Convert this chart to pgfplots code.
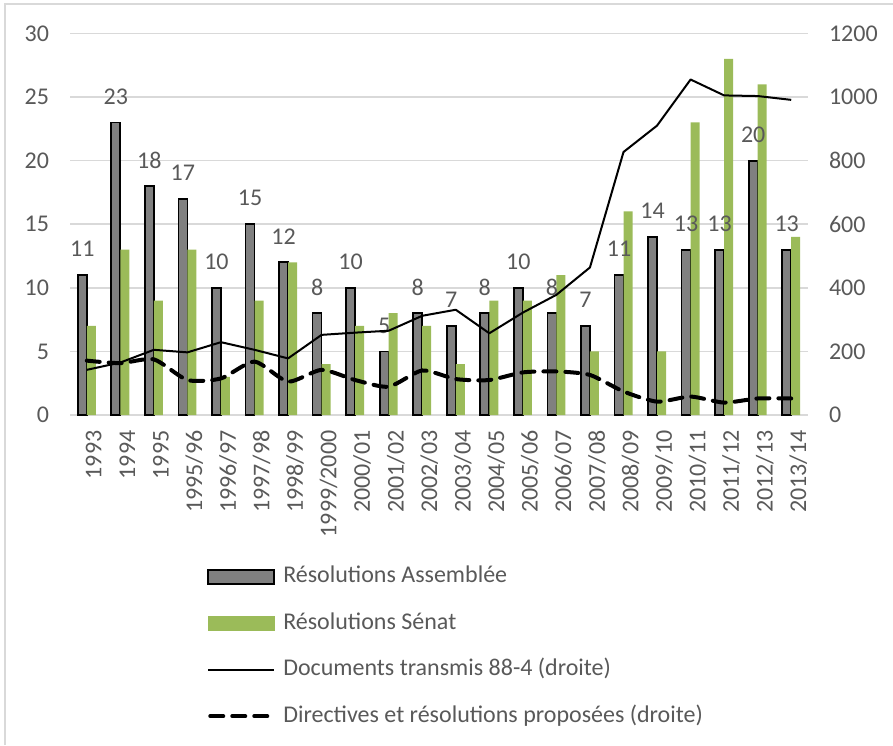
\documentclass[border=0pt]{standalone}
\usepackage{fontspec}
\setmainfont{Carlito}
\usepackage{pgfplots}
\pgfplotsset{compat=1.18}
\definecolor{txt}{HTML}{595959}
\definecolor{gridc}{HTML}{D9D9D9}
\definecolor{barg}{HTML}{808080}
\definecolor{barn}{HTML}{9BBB59}
\pgfkeys{/pgf/number format/assume math mode=true}
\newcommand{\lf}{\fontsize{12}{14}\selectfont}
\begin{document}
\begin{tikzpicture}
\path[use as bounding box] (0pt,0pt) rectangle (446.5pt,372.5pt);
\draw[color=gridc, line width=0.75pt] (2.5pt,0pt) -- (2.5pt,370.5pt) -- (446.5pt,370.5pt);
\begin{axis}[
  at={(35pt,165pt)}, anchor=south west,
  scale only axis, width=369pt, height=190.8pt,
  ybar=0pt, bar width=4.5pt,
  xmin=-0.5, xmax=21.5, ymin=0, ymax=30,
  ytick={0,5,...,30},
  xtick={0,...,21},
  xticklabels={1993,1994,1995,1995/96,1996/97,1997/98,1998/99,1999/2000,2000/01,2001/02,2002/03,2003/04,2004/05,2005/06,2006/07,2007/08,2008/09,2009/10,2010/11,2011/12,2012/13,2013/14},
  xticklabel style={rotate=90, anchor=east, font=\lf, text=txt, yshift=-3.5pt},
  yticklabel style={font=\lf, text=txt, xshift=-7pt},
  /pgf/number format/1000 sep={},
  ymajorgrids, grid style={color=gridc, line width=0.75pt},
  axis line style={draw=none}, tick style={draw=none},
  clip=false,
  every node near coord/.append style={anchor=center, yshift=13pt, font=\lf, text=txt, draw=none, fill=none},
]
\addplot[fill=barg, draw=black, line width=0.9pt, nodes near coords] coordinates {
(0,11) (1,23) (2,18) (3,17) (4,10) (5,15) (6,12) (7,8) (8,10) (9,5) (10,8)
(11,7) (12,8) (13,10) (14,8) (15,7) (16,11) (17,14) (18,13) (19,13) (20,20) (21,13)};
\addplot[fill=barn, draw=none] coordinates {
(0,7) (1,13) (2,9) (3,13) (4,3) (5,9) (6,12) (7,4) (8,7) (9,8) (10,7)
(11,4) (12,9) (13,9) (14,11) (15,5) (16,16) (17,5) (18,23) (19,28) (20,26) (21,14)};
\end{axis}
\begin{axis}[
  at={(35pt,165pt)}, anchor=south west,
  scale only axis, width=369pt, height=190.8pt,
  xmin=-0.5, xmax=21.5, ymin=0, ymax=1200,
  ytick={0,200,...,1200},
  axis x line=none, axis y line*=right,
  axis line style={draw=none}, tick style={draw=none},
  yticklabel style={font=\lf, text=txt, xshift=7pt},
  /pgf/number format/1000 sep={},
  clip=false,
  legend style={at={(axis description cs:0.186,-0.393)}, anchor=north west, draw=none, fill=none,
    inner sep=0pt, outer sep=0pt, row sep=11.2pt, column sep=4pt, font=\lf, text=txt,
    nodes={inner sep=0pt, text height=9pt, text depth=3pt}},
  legend cell align=left,
]
\addlegendimage{legend image code/.code={\draw[fill=barg,draw=black,line width=0.9pt] (0pt,-3.5pt) rectangle (33pt,3.5pt);}}
\addlegendentry{Résolutions Assemblée}
\addlegendimage{legend image code/.code={\fill[barn] (0pt,-3.5pt) rectangle (33pt,3.5pt);}}
\addlegendentry{Résolutions Sénat}
\addplot[black, line width=1pt, line join=round, legend image code/.code={\draw[black,line width=1pt] (0pt,0pt)--(33pt,0pt);}] coordinates {
(0,142) (1,165) (2,205) (3,197) (4,229) (5,205) (6,178) (7,252) (8,259) (9,265) (10,312)
(11,331) (12,257) (13,322) (14,378) (15,464) (16,827) (17,910) (18,1055) (19,1005) (20,1003) (21,991)};
\addlegendentry{Documents transmis 88-4 (droite)}
\addplot[black, line width=2pt, dash pattern=on 6.5pt off 4.5pt, line cap=round, smooth, tension=0.4,
  legend image code/.code={\draw[black,line width=2pt,dash pattern=on 6.5pt off 4.5pt,line cap=round] (1pt,0pt)--(32pt,0pt);}] coordinates {
(0,171) (1,163) (2,175) (3,110) (4,115) (5,168) (6,105) (7,142) (8,110) (9,89) (10,140)
(11,113) (12,110) (13,134) (14,137) (15,126) (16,74) (17,42) (18,58) (19,39) (20,52) (21,52)};
\addlegendentry{Directives et résolutions proposées (droite)}
\end{axis}
\end{tikzpicture}
\end{document}
